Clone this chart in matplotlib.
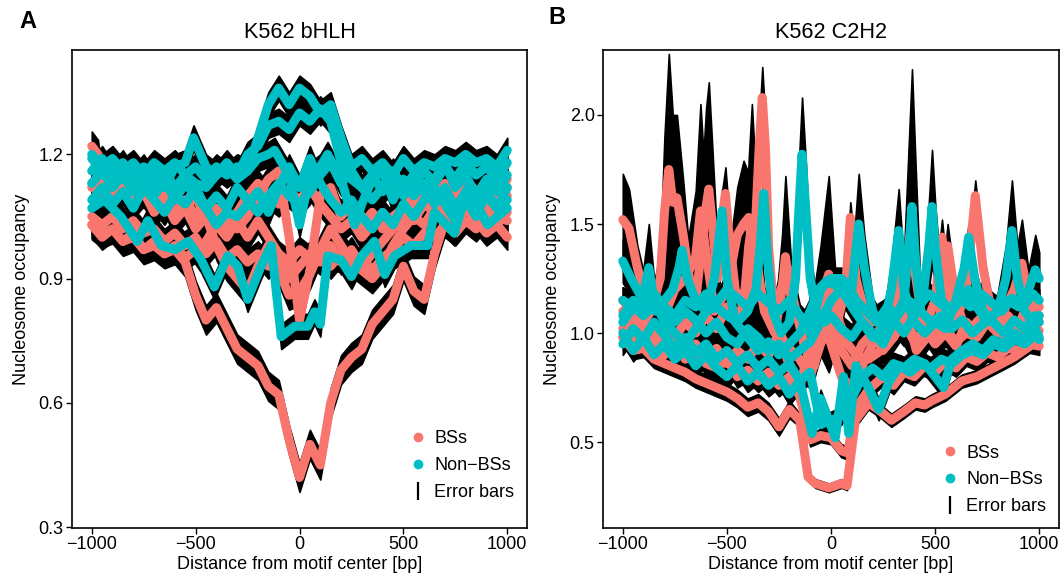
import numpy as np
import matplotlib
matplotlib.use("Agg")
import matplotlib.pyplot as plt
from matplotlib.lines import Line2D

plt.rcParams['font.family'] = ['Liberation Sans', 'DejaVu Sans']
plt.rcParams['font.size'] = 13

BS_COLOR = '#F8766D'
NON_COLOR = '#00BFC4'

# ---- K562 bHLH: profiles as (position, occupancy) ----
a_bs = [
    [(-1000, 1.03), (-950, 1.01), (-900, 1.02), (-850, 0.99), (-800, 1.00), (-750, 0.97), (-700, 0.98),
     (-650, 0.96), (-600, 0.97), (-550, 0.94), (-500, 0.86), (-450, 0.80), (-400, 0.83), (-350, 0.78),
     (-300, 0.73), (-250, 0.71), (-200, 0.69), (-150, 0.64), (-100, 0.62), (-50, 0.51), (0, 0.42),
     (50, 0.50), (100, 0.45), (150, 0.60), (200, 0.68), (250, 0.71), (300, 0.73), (350, 0.79),
     (400, 0.82), (450, 0.85), (500, 0.93), (550, 0.87), (600, 0.85), (650, 0.96), (700, 1.04),
     (750, 1.06), (800, 1.07), (850, 1.06), (900, 1.07), (950, 1.05), (1000, 1.04)],
    [(-1000, 1.12), (-950, 1.15), (-900, 1.10), (-850, 1.13), (-800, 1.09), (-750, 1.12), (-700, 1.08),
     (-650, 1.10), (-600, 1.06), (-550, 1.09), (-500, 1.05), (-450, 1.08), (-400, 1.03), (-350, 1.06),
     (-300, 1.02), (-250, 1.05), (-200, 1.10), (-150, 1.14), (-100, 1.16), (-50, 1.00), (0, 0.80),
     (50, 0.92), (100, 1.10), (150, 1.12), (200, 1.05), (250, 1.08), (300, 1.03), (350, 1.06),
     (400, 1.02), (450, 1.05), (500, 1.07), (550, 1.04), (600, 1.08), (650, 1.06), (700, 1.10),
     (750, 1.08), (800, 1.12), (850, 1.09), (900, 1.13), (950, 1.10), (1000, 1.14)],
    [(-1000, 1.05), (-950, 1.03), (-900, 1.05), (-850, 1.02), (-800, 1.04), (-750, 1.01), (-700, 1.02),
     (-650, 0.99), (-600, 1.01), (-550, 0.98), (-500, 1.00), (-450, 0.96), (-400, 0.99), (-350, 0.95),
     (-300, 0.97), (-250, 0.94), (-200, 0.96), (-150, 0.93), (-100, 0.96), (-50, 0.94), (0, 0.97),
     (50, 0.95), (100, 0.97), (150, 0.93), (200, 0.96), (250, 0.93), (300, 0.95), (350, 0.92),
     (400, 0.95), (450, 0.97), (500, 1.00), (550, 0.98), (600, 1.01), (650, 1.00), (700, 1.03),
     (750, 1.01), (800, 1.04), (850, 1.02), (900, 1.05), (950, 1.03), (1000, 1.06)],
    [(-1000, 1.22), (-970, 1.20), (-950, 1.12), (-900, 1.10), (-850, 1.13), (-800, 1.08), (-750, 1.11),
     (-700, 1.06), (-650, 1.09), (-600, 1.04), (-550, 1.07), (-500, 1.02), (-450, 1.05), (-400, 0.98),
     (-350, 0.93), (-300, 0.90), (-250, 0.87), (-200, 0.93), (-150, 0.98), (-100, 0.92), (-50, 0.86),
     (0, 0.87), (50, 0.91), (100, 0.97), (150, 1.02), (200, 0.98), (250, 0.94), (300, 0.92),
     (350, 0.90), (400, 0.93), (450, 0.98), (500, 1.02), (550, 1.05), (600, 1.03), (650, 1.07),
     (700, 1.05), (750, 1.09), (800, 1.07), (850, 1.10), (900, 1.12), (950, 1.09), (1000, 1.12)],
    [(-1000, 1.13), (-950, 1.10), (-900, 1.14), (-850, 1.11), (-800, 1.15), (-750, 1.10), (-700, 1.13),
     (-650, 1.08), (-600, 1.11), (-550, 1.07), (-500, 1.10), (-450, 1.04), (-400, 1.07), (-350, 1.03),
     (-300, 1.06), (-250, 1.10), (-200, 1.13), (-150, 1.10), (-100, 1.08), (-50, 1.11), (0, 1.09),
     (50, 1.12), (100, 1.08), (150, 1.05), (200, 1.02), (250, 1.04), (300, 1.00), (350, 1.03),
     (400, 1.06), (450, 1.03), (500, 1.07), (550, 1.10), (600, 1.12), (650, 1.09), (700, 1.13),
     (750, 1.10), (800, 1.14), (850, 1.11), (900, 1.08), (950, 1.12), (1000, 1.10)],
    [(-1000, 1.03), (-950, 1.00), (-900, 1.02), (-850, 0.99), (-800, 1.01), (-750, 0.97), (-700, 0.99),
     (-650, 0.96), (-600, 0.98), (-550, 0.95), (-500, 0.97), (-450, 0.99), (-400, 1.03), (-350, 1.00),
     (-300, 1.04), (-250, 1.00), (-200, 1.04), (-150, 1.00), (-100, 0.96), (-50, 0.90), (0, 0.93),
     (50, 0.96), (100, 0.94), (150, 0.98), (200, 0.94), (250, 0.97), (300, 0.93), (350, 0.96),
     (400, 0.99), (450, 1.02), (500, 1.05), (550, 1.08), (600, 1.12), (650, 1.09), (700, 1.06),
     (750, 1.03), (800, 1.07), (850, 1.04), (900, 1.01), (950, 1.03), (1000, 1.00)],
]
a_non = [
    [(-1000, 1.20), (-950, 1.17), (-900, 1.19), (-850, 1.16), (-800, 1.18), (-750, 1.15), (-700, 1.18),
     (-650, 1.16), (-600, 1.18), (-550, 1.15), (-500, 1.17), (-450, 1.14), (-400, 1.17), (-350, 1.15),
     (-300, 1.17), (-250, 1.16), (-200, 1.24), (-150, 1.32), (-100, 1.36), (-50, 1.32), (0, 1.36),
     (50, 1.34), (100, 1.30), (150, 1.32), (200, 1.24), (250, 1.17), (300, 1.19), (350, 1.16),
     (400, 1.18), (450, 1.15), (500, 1.19), (550, 1.16), (600, 1.18), (650, 1.17), (700, 1.19),
     (750, 1.18), (800, 1.20), (850, 1.18), (900, 1.19), (950, 1.17), (1000, 1.21)],
    [(-1000, 1.16), (-950, 1.19), (-900, 1.15), (-850, 1.18), (-800, 1.14), (-750, 1.17), (-700, 1.13),
     (-650, 1.16), (-600, 1.12), (-550, 1.15), (-500, 1.13), (-450, 1.12), (-400, 1.15), (-350, 1.18),
     (-300, 1.15), (-250, 1.20), (-200, 1.22), (-150, 1.27), (-100, 1.28), (-50, 1.26), (0, 1.30),
     (50, 1.28), (100, 1.31), (150, 1.28), (200, 1.18), (250, 1.14), (300, 1.12), (350, 1.15),
     (400, 1.11), (450, 1.14), (500, 1.10), (550, 1.13), (600, 1.16), (650, 1.13), (700, 1.17),
     (750, 1.14), (800, 1.18), (850, 1.15), (900, 1.17), (950, 1.14), (1000, 1.18)],
    [(-1000, 1.19), (-950, 1.16), (-900, 1.18), (-850, 1.14), (-800, 1.17), (-750, 1.13), (-700, 1.16),
     (-650, 1.12), (-600, 1.17), (-550, 1.18), (-510, 1.24), (-450, 1.17), (-400, 1.15), (-350, 1.17),
     (-300, 1.14), (-250, 1.16), (-200, 1.19), (-150, 1.20), (-120, 1.21), (-50, 1.15), (0, 1.03),
     (50, 1.15), (100, 1.17), (135, 1.20), (200, 1.14), (265, 1.03), (300, 1.08), (350, 1.14),
     (400, 1.16), (450, 1.09), (500, 1.14), (550, 1.10), (600, 1.13), (650, 1.08), (700, 1.12),
     (750, 1.07), (800, 1.11), (850, 1.06), (900, 1.10), (950, 1.07), (1000, 1.12)],
    [(-1000, 1.07), (-940, 1.09), (-860, 1.05), (-780, 0.99), (-730, 1.04), (-665, 0.98), (-600, 0.97),
     (-535, 0.99), (-473, 0.945), (-410, 0.88), (-345, 0.955), (-297, 0.93), (-250, 0.85),
     (-185, 0.93), (-136, 0.98), (-88, 0.76), (-24, 0.785), (40, 0.785), (72, 0.82), (100, 0.79),
     (136, 0.955), (200, 0.945), (250, 0.905), (300, 0.955), (360, 0.99), (410, 0.91), (457, 0.955),
     (537, 0.98), (617, 0.98), (650, 1.06), (745, 1.01), (810, 1.12), (905, 1.03), (1000, 1.07)],
    [(-1000, 1.09), (-950, 1.12), (-900, 1.08), (-850, 1.11), (-800, 1.07), (-750, 1.12), (-700, 1.09),
     (-650, 1.06), (-600, 1.10), (-550, 1.08), (-500, 1.12), (-450, 1.07), (-400, 1.03), (-350, 1.06),
     (-300, 1.05), (-250, 1.08), (-200, 1.11), (-150, 1.06), (-100, 1.12), (-50, 1.17), (0, 1.12),
     (50, 1.19), (100, 1.13), (150, 1.09), (200, 1.06), (250, 1.09), (300, 1.05), (350, 1.02),
     (400, 1.06), (450, 1.03), (500, 1.08), (550, 1.05), (600, 1.09), (650, 1.12), (700, 1.08),
     (750, 1.04), (800, 1.09), (850, 1.05), (900, 1.11), (950, 1.07), (1000, 1.09)],
    [(-1000, 1.13), (-950, 1.16), (-900, 1.12), (-850, 1.15), (-800, 1.11), (-750, 1.14), (-700, 1.10),
     (-650, 1.14), (-600, 1.09), (-550, 1.13), (-500, 1.10), (-450, 1.07), (-400, 1.10), (-350, 1.07),
     (-300, 1.12), (-250, 1.09), (-200, 1.06), (-150, 1.10), (-100, 1.13), (-50, 1.10), (0, 1.08),
     (50, 1.11), (100, 1.15), (150, 1.18), (200, 1.13), (250, 1.16), (300, 1.12), (350, 1.09),
     (400, 1.12), (450, 1.16), (500, 1.12), (550, 1.15), (600, 1.11), (650, 1.14), (700, 1.18),
     (750, 1.12), (800, 1.15), (850, 1.10), (900, 1.14), (950, 1.11), (1000, 1.15)],
]
# error bar half-width for each bHLH profile
a_bs_err = [0.035, 0.03, 0.03, 0.035, 0.03, 0.03]
a_non_err = [0.03, 0.03, 0.03, 0.03, 0.03, 0.03]

# ---- K562 C2H2: profiles as (position, occupancy, error) ----
b_bs = [
    [(-1000, 0.98, .04), (-950, 0.92, .04), (-900, 0.93, .04), (-850, 0.88, .04), (-800, 0.86, .04),
     (-750, 0.84, .04), (-700, 0.82, .04), (-650, 0.79, .04), (-600, 0.77, .04), (-550, 0.75, .04),
     (-500, 0.73, .04), (-450, 0.70, .04), (-400, 0.66, .04), (-350, 0.68, .04), (-300, 0.64, .04),
     (-250, 0.57, .04), (-200, 0.65, .04), (-150, 0.60, .03), (-110, 0.34, .02), (-75, 0.31, .02),
     (-10, 0.29, .02), (50, 0.31, .02), (77, 0.30, .02), (117, 0.60, .03), (180, 0.68, .03),
     (240, 0.64, .03), (290, 0.60, .03), (350, 0.64, .03), (405, 0.68, .03), (450, 0.67, .03),
     (485, 0.69, .03), (550, 0.72, .03), (629, 0.78, .03), (700, 0.80, .03), (760, 0.83, .03),
     (821, 0.86, .03), (880, 0.89, .03), (940, 0.93, .03), (1000, 0.97, .03)],
    [(-1000, 1.02, .05), (-950, 0.95, .05), (-900, 1.05, .05), (-850, 0.93, .05), (-800, 0.90, .05),
     (-750, 0.96, .05), (-700, 0.88, .05), (-650, 0.92, .05), (-600, 0.86, .05), (-550, 0.84, .05),
     (-500, 0.88, .05), (-450, 0.80, .05), (-400, 0.83, .05), (-350, 0.78, .05), (-300, 0.82, .05),
     (-250, 0.76, .05), (-200, 0.80, .05), (-150, 0.71, .04), (-100, 0.51, .03), (-50, 0.53, .03),
     (0, 0.52, .03), (50, 0.46, .03), (80, 0.45, .03), (117, 0.65, .04), (180, 0.74, .04),
     (250, 0.80, .04), (300, 0.76, .04), (350, 0.82, .04), (400, 0.80, .04), (450, 0.85, .04),
     (500, 0.82, .04), (550, 0.87, .04), (600, 0.84, .04), (650, 0.89, .04), (700, 0.87, .04),
     (750, 0.91, .04), (800, 0.89, .04), (850, 0.93, .04), (900, 0.92, .04), (950, 0.95, .04),
     (1000, 0.94, .04)],
    [(-1000, 1.10, .06), (-950, 1.05, .06), (-900, 1.00, .06), (-850, 0.97, .06), (-800, 1.02, .06),
     (-750, 0.98, .06), (-700, 1.05, .06), (-650, 1.00, .06), (-600, 1.08, .06), (-550, 1.02, .06),
     (-500, 1.12, .06), (-450, 1.05, .06), (-400, 1.20, .08), (-365, 1.45, .10), (-345, 1.85, .12),
     (-330, 2.08, .14), (-315, 1.85, .12), (-300, 1.40, .10), (-270, 1.05, .06), (-220, 0.95, .06),
     (-150, 0.88, .06), (-100, 0.80, .06), (-50, 0.95, .06), (0, 1.05, .06), (50, 0.92, .06),
     (100, 0.85, .06), (150, 0.95, .06), (200, 1.00, .06), (250, 0.92, .06), (300, 0.98, .06),
     (350, 1.05, .06), (400, 0.96, .06), (450, 1.02, .06), (500, 0.95, .06), (550, 1.00, .06),
     (600, 0.94, .06), (650, 1.05, .06), (700, 1.00, .06), (750, 1.08, .06), (800, 1.02, .06),
     (850, 0.97, .06), (900, 1.03, .06), (950, 1.00, .06), (1000, 1.05, .06)],
    [(-1000, 1.52, .21), (-970, 1.48, .18), (-930, 1.30, .10), (-900, 1.20, .08), (-850, 1.15, .08),
     (-820, 1.25, .12), (-800, 1.55, .35), (-779, 1.75, .53), (-760, 1.60, .40), (-740, 1.62, .38),
     (-710, 1.45, .25), (-680, 1.25, .12), (-650, 1.15, .08), (-620, 1.40, .30), (-600, 1.58, .45),
     (-587, 1.66, .49), (-570, 1.50, .35), (-545, 1.25, .15), (-520, 1.55, .12), (-507, 1.64, .12),
     (-490, 1.45, .10), (-460, 1.20, .08), (-420, 1.12, .10), (-395, 1.40, .40), (-380, 1.50, .55),
     (-360, 1.35, .35), (-320, 1.10, .10), (-270, 1.00, .08), (-235, 1.20, .25), (-219, 1.35, .37),
     (-190, 1.15, .15), (-150, 1.05, .08), (-100, 1.00, .08), (-50, 1.15, .25), (-11, 1.27, .45),
     (30, 1.05, .10), (70, 1.20, .07), (93, 1.53, .07), (120, 1.25, .07), (160, 1.10, .07),
     (200, 1.05, .07), (250, 1.08, .07), (300, 1.12, .07), (350, 1.05, .07), (400, 1.10, .07),
     (450, 1.02, .07), (500, 1.15, .07), (533, 1.44, .08), (560, 1.20, .07), (600, 1.05, .07),
     (650, 1.20, .07), (693, 1.63, .07), (730, 1.30, .07), (780, 1.05, .07), (830, 1.10, .07),
     (880, 1.20, .12), (917, 1.32, .20), (960, 1.10, .10), (1000, 1.08, .08)],
    [(-1000, 1.15, .06), (-950, 1.10, .06), (-900, 1.05, .06), (-850, 1.12, .06), (-800, 1.08, .06),
     (-750, 1.20, .08), (-700, 1.25, .10), (-650, 1.35, .30), (-627, 1.56, .49), (-605, 1.40, .30),
     (-560, 1.10, .06), (-500, 1.20, .08), (-450, 1.45, .22), (-420, 1.50, .29), (-395, 1.53, .20),
     (-370, 1.30, .10), (-330, 1.15, .06), (-280, 1.10, .06), (-240, 1.20, .08), (-210, 1.30, .10),
     (-180, 1.15, .06), (-130, 0.95, .06), (-80, 0.85, .06), (-30, 1.10, .06), (0, 1.25, .06),
     (40, 1.05, .06), (80, 0.95, .06), (120, 0.90, .06), (180, 0.88, .06), (240, 0.92, .06),
     (300, 1.00, .06), (330, 1.35, .10), (360, 1.10, .06), (410, 0.92, .06), (460, 0.98, .06),
     (520, 1.05, .06), (560, 1.40, .10), (600, 1.15, .06), (650, 1.00, .06), (700, 1.05, .06),
     (750, 1.10, .06), (800, 1.02, .06), (850, 1.07, .06), (900, 1.03, .06), (950, 1.15, .06),
     (1000, 1.12, .06)],
    [(-1000, 0.98, .05), (-950, 1.05, .05), (-900, 0.95, .05), (-850, 1.00, .05), (-800, 0.92, .05),
     (-750, 0.98, .05), (-700, 0.90, .05), (-650, 0.95, .05), (-600, 0.88, .05), (-550, 0.93, .05),
     (-500, 0.86, .05), (-450, 0.92, .05), (-400, 0.88, .05), (-350, 0.95, .05), (-300, 0.90, .05),
     (-250, 1.00, .05), (-200, 0.85, .05), (-150, 0.75, .05), (-100, 0.95, .05), (-50, 1.10, .05),
     (0, 0.95, .05), (50, 0.80, .05), (100, 0.75, .05), (150, 0.85, .05), (200, 0.95, .05),
     (250, 1.05, .05), (300, 0.98, .05), (350, 1.20, .08), (380, 1.45, .10), (400, 1.30, .08),
     (440, 1.05, .05), (500, 0.98, .05), (550, 1.02, .05), (600, 0.96, .05), (650, 1.00, .05),
     (700, 0.98, .05), (750, 1.05, .05), (800, 1.00, .05), (850, 1.08, .05), (900, 1.02, .05),
     (950, 1.06, .05), (1000, 1.01, .05)],
]
b_non = [
    [(-1000, 1.33, .10), (-960, 1.25, .08), (-920, 1.18, .06), (-880, 1.12, .06), (-840, 1.10, .06),
     (-800, 1.15, .06), (-760, 1.20, .08), (-730, 1.30, .15), (-715, 1.38, .20), (-690, 1.25, .12),
     (-650, 1.15, .06), (-600, 1.10, .06), (-550, 1.12, .06), (-500, 1.08, .06), (-450, 1.05, .06),
     (-400, 1.10, .06), (-360, 1.20, .08), (-340, 1.40, .10), (-323, 1.64, .12), (-305, 1.35, .10),
     (-280, 1.10, .06), (-240, 1.00, .06), (-200, 1.05, .06), (-170, 1.25, .15), (-155, 1.55, .22),
     (-139, 1.82, .26), (-120, 1.55, .22), (-100, 1.25, .12), (-70, 1.10, .06), (-30, 1.05, .06),
     (0, 1.08, .06), (50, 1.02, .06), (100, 0.98, .06), (150, 1.05, .06), (200, 1.00, .06),
     (250, 0.95, .06), (300, 1.05, .06), (350, 1.15, .20), (375, 1.40, .50), (389, 1.58, .63),
     (405, 1.35, .45), (430, 1.10, .10), (480, 1.05, .06), (530, 1.08, .06), (580, 1.02, .06),
     (630, 1.06, .06), (680, 1.00, .06), (740, 1.05, .06), (800, 1.10, .08), (840, 1.25, .15),
     (869, 1.47, .23), (895, 1.25, .15), (930, 1.10, .08), (970, 1.05, .06), (1000, 1.08, .06)],
    [(-1000, 1.05, .06), (-950, 1.12, .06), (-900, 1.18, .12), (-875, 1.30, .20), (-850, 1.15, .10),
     (-800, 1.05, .06), (-750, 1.00, .06), (-700, 0.95, .06), (-650, 1.02, .06), (-600, 1.10, .06),
     (-560, 1.25, .08), (-523, 1.56, .10), (-500, 1.25, .08), (-460, 1.05, .06), (-400, 0.98, .06),
     (-350, 0.92, .06), (-300, 0.96, .06), (-250, 0.90, .06), (-200, 0.95, .06), (-150, 1.00, .06),
     (-100, 1.10, .06), (-60, 1.20, .06), (-20, 1.24, .06), (20, 1.22, .06), (60, 1.18, .06),
     (100, 1.20, .10), (133, 1.50, .23), (160, 1.30, .15), (200, 1.10, .06), (250, 1.02, .06),
     (300, 1.06, .06), (350, 1.00, .06), (400, 1.08, .06), (440, 1.15, .10), (470, 1.40, .20),
     (485, 1.58, .26), (500, 1.40, .20), (530, 1.15, .08), (580, 1.10, .06), (620, 1.15, .06),
     (660, 1.20, .06), (700, 1.12, .06), (750, 1.05, .06), (800, 1.10, .06), (850, 1.15, .06),
     (900, 1.12, .06), (950, 1.20, .10), (981, 1.29, .16), (1000, 1.25, .12)],
    [(-1000, 1.15, .06), (-950, 1.12, .06), (-900, 1.08, .06), (-850, 1.13, .06), (-800, 1.10, .06),
     (-750, 1.05, .06), (-700, 1.10, .06), (-650, 1.06, .06), (-600, 1.00, .06), (-550, 1.05, .06),
     (-500, 0.98, .06), (-450, 0.95, .06), (-400, 1.02, .06), (-350, 0.98, .06), (-300, 0.92, .06),
     (-250, 0.95, .06), (-200, 0.88, .06), (-150, 0.92, .06), (-100, 0.96, .06), (-50, 1.05, .06),
     (0, 1.15, .06), (50, 1.20, .06), (100, 1.12, .06), (150, 1.05, .06), (200, 0.98, .06),
     (250, 1.02, .06), (290, 1.20, .12), (325, 1.47, .19), (350, 1.20, .12), (400, 1.05, .06),
     (450, 1.00, .06), (500, 1.05, .06), (550, 1.02, .06), (600, 1.15, .06), (640, 1.30, .06),
     (661, 1.44, .06), (690, 1.25, .06), (730, 1.10, .06), (780, 1.05, .06), (830, 1.00, .06),
     (880, 1.06, .06), (930, 1.02, .06), (980, 1.08, .06), (1000, 1.05, .06)],
    [(-1000, 1.00, .05), (-950, 0.92, .05), (-900, 0.98, .05), (-850, 0.90, .05), (-800, 0.95, .05),
     (-750, 0.88, .05), (-700, 0.92, .05), (-650, 0.85, .05), (-600, 0.90, .05), (-550, 0.84, .05),
     (-500, 0.80, .05), (-450, 0.85, .05), (-400, 0.78, .05), (-350, 0.82, .05), (-300, 0.76, .05),
     (-250, 0.80, .05), (-200, 0.72, .05), (-150, 0.78, .05), (-91, 0.54, .04), (-50, 0.70, .04),
     (21, 0.52, .04), (60, 0.80, .04), (85, 0.54, .04), (120, 0.85, .05), (180, 0.75, .05),
     (229, 0.65, .05), (280, 0.78, .05), (330, 0.85, .05), (380, 0.82, .05), (430, 0.86, .05),
     (480, 0.84, .05), (530, 0.88, .05), (580, 0.86, .05), (630, 0.90, .05), (680, 0.92, .05),
     (730, 0.90, .05), (780, 0.95, .05), (830, 0.93, .05), (880, 0.97, .05), (930, 0.95, .05),
     (980, 0.99, .05), (1000, 0.97, .05)],
    [(-1000, 0.95, .05), (-950, 1.02, .05), (-900, 0.97, .05), (-850, 1.05, .05), (-800, 0.99, .05),
     (-750, 0.93, .05), (-700, 0.98, .05), (-650, 0.91, .05), (-600, 0.95, .05), (-550, 0.88, .05),
     (-500, 0.92, .05), (-450, 0.86, .05), (-400, 0.90, .05), (-350, 0.84, .05), (-300, 0.88, .05),
     (-250, 0.82, .05), (-200, 0.86, .05), (-150, 0.78, .05), (-100, 0.82, .05), (-50, 0.58, .04),
     (0, 0.60, .04), (50, 0.62, .04), (100, 0.70, .04), (150, 0.80, .05), (200, 0.84, .05),
     (250, 0.80, .05), (300, 0.86, .05), (350, 0.84, .05), (400, 0.88, .05), (450, 0.86, .05),
     (500, 0.80, .05), (540, 0.75, .05), (580, 0.88, .05), (630, 0.92, .05), (680, 0.95, .05),
     (730, 0.92, .05), (780, 0.97, .05), (830, 0.95, .05), (880, 1.00, .05), (930, 0.97, .05),
     (980, 1.02, .05), (1000, 0.98, .05)],
    [(-1000, 1.08, .05), (-950, 1.15, .05), (-900, 1.10, .05), (-850, 1.18, .05), (-800, 1.12, .05),
     (-750, 1.08, .05), (-700, 1.15, .05), (-650, 1.12, .05), (-600, 1.18, .05), (-550, 1.14, .05),
     (-500, 1.20, .05), (-450, 1.16, .05), (-400, 1.12, .05), (-350, 1.18, .05), (-300, 1.14, .05),
     (-250, 1.10, .05), (-200, 1.15, .05), (-150, 1.08, .05), (-100, 1.00, .05), (-50, 1.20, .05),
     (0, 1.25, .05), (50, 1.25, .05), (80, 1.22, .05), (120, 1.15, .05), (170, 1.10, .05),
     (220, 1.05, .05), (270, 1.12, .05), (320, 1.08, .05), (370, 1.15, .05), (420, 1.12, .05),
     (470, 1.18, .05), (520, 1.14, .05), (570, 1.10, .05), (620, 1.16, .05), (670, 1.12, .05),
     (720, 1.18, .05), (770, 1.14, .05), (820, 1.10, .05), (870, 1.16, .05), (920, 1.12, .05),
     (970, 1.18, .05), (1000, 1.15, .05)],
]


def split(line, err=None):
    arr = np.array(line, dtype=float)
    x, y = arr[:, 0], arr[:, 1]
    e = arr[:, 2] if arr.shape[1] > 2 else np.full_like(y, err)
    return x, y, e


def draw_panel(ax, bs, non, bs_err=None, non_err=None):
    bs_data = [split(l, None if bs_err is None else bs_err[i]) for i, l in enumerate(bs)]
    non_data = [split(l, None if non_err is None else non_err[i]) for i, l in enumerate(non)]
    # error bars first, then BSs, then Non-BSs on top
    for x, y, e in bs_data + non_data:
        ax.fill_between(x, y - e, y + e, color='black', lw=1.2, edgecolor='black', zorder=1)
    for x, y, e in bs_data:
        ax.plot(x, y, color=BS_COLOR, lw=6.5, solid_capstyle='round', solid_joinstyle='round', zorder=2)
    for x, y, e in non_data:
        ax.plot(x, y, color=NON_COLOR, lw=6.5, solid_capstyle='round', solid_joinstyle='round', zorder=3)

    ax.set_xlim(-1095, 1095)
    ax.set_xticks([-1000, -500, 0, 500, 1000])
    ax.set_xlabel('Distance from motif center [bp]', labelpad=2)
    ax.set_ylabel('Nucleosome occupancy', labelpad=6)
    for s in ax.spines.values():
        s.set_linewidth(1.2)
    ax.tick_params(direction='out', length=4, width=1, colors='black', pad=2)

    handles = [
        Line2D([], [], ls='none', marker='o', ms=6, color=BS_COLOR),
        Line2D([], [], ls='none', marker='o', ms=6, color=NON_COLOR),
        Line2D([], [], ls='none', marker='|', ms=13, mew=1.6, color='black'),
    ]
    return handles


fig = plt.figure(figsize=(10.63, 5.81), dpi=100)
ax_a = fig.add_axes([72 / 1063, 53 / 581, 455 / 1063, 478 / 581])
ax_b = fig.add_axes([603 / 1063, 53 / 581, 456 / 1063, 478 / 581])

h = draw_panel(ax_a, a_bs, a_non, a_bs_err, a_non_err)
ax_a.set_ylim(0.298, 1.452)
ax_a.set_yticks([0.3, 0.6, 0.9, 1.2])
ax_a.set_title('K562 bHLH', pad=9)
ax_a.legend(h, ['BSs', 'Non\u2212BSs', 'Error bars'], loc='lower right', frameon=False,
            bbox_to_anchor=(1.0, 0.03), handlelength=1.0, handletextpad=0.4, labelspacing=0.55,
            borderaxespad=0.3)

h = draw_panel(ax_b, b_bs, b_non)
ax_b.set_ylim(0.106, 2.298)
ax_b.set_yticks([0.5, 1.0, 1.5, 2.0])
ax_b.set_title('K562 C2H2', pad=9)
ax_b.legend(h, ['BSs', 'Non\u2212BSs', 'Error bars'], loc='lower right', frameon=False,
            bbox_to_anchor=(1.0, 0.0), handlelength=1.0, handletextpad=0.4, labelspacing=0.55,
            borderaxespad=0.3)

fig.text(28 / 1063, 1 - 22 / 581, 'A', fontsize=17, fontweight='bold', ha='center', va='center')
fig.text(557 / 1063, 1 - 18 / 581, 'B', fontsize=17, fontweight='bold', ha='center', va='center')

fig.savefig('out.png', dpi=100)
